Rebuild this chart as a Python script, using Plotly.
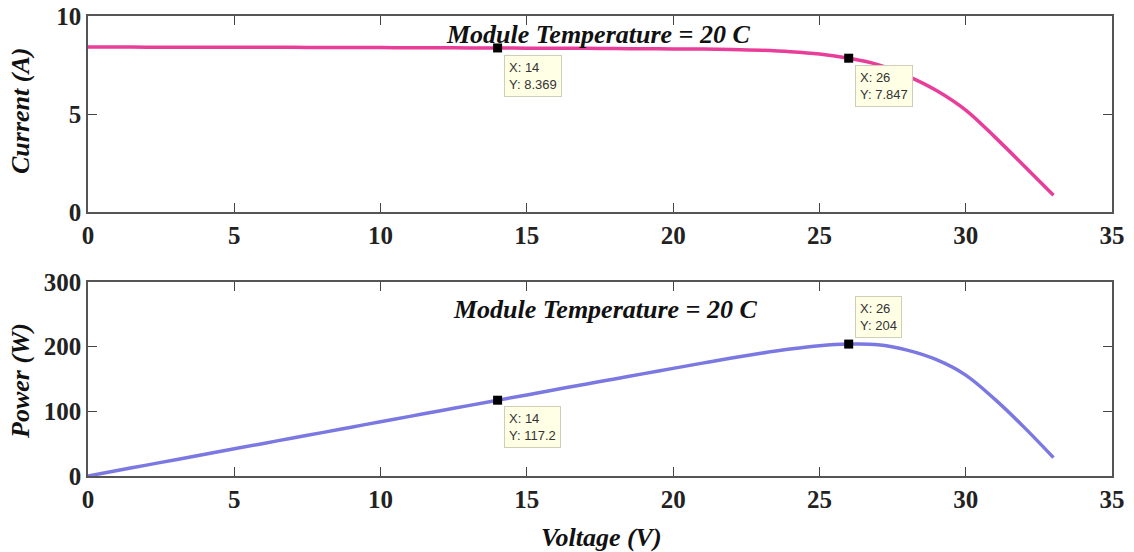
import plotly.graph_objects as go

voltage = list(range(0, 34))
current = [8.42, 8.42, 8.41, 8.41, 8.41, 8.40, 8.40, 8.40, 8.39, 8.39, 8.39,
           8.38, 8.38, 8.37, 8.369, 8.36, 8.36, 8.35, 8.34, 8.33, 8.32, 8.31,
           8.29, 8.25, 8.18, 8.06, 7.847, 7.52, 6.95, 6.20, 5.20, 3.82, 2.35, 0.86]
power = [0, 8.42, 16.82, 25.23, 33.64, 42.0, 50.4, 58.8, 67.12, 75.51, 83.9,
         92.18, 100.56, 108.81, 117.2, 125.4, 133.76, 141.95, 150.12, 158.27, 166.4,
         174.51, 182.38, 189.75, 196.32, 201.5, 204.0, 203.04, 194.6, 179.8, 156.0,
         118.42, 75.2, 28.38]
tip_x = [14, 26]
tip_i = [8.369, 7.847]
tip_p = [117.2, 204]
tip_i_txt = ["8.369", "7.847"]
tip_p_txt = ["117.2", "204"]

title_text = "Module Temperature = 20 C"
x_ticks = [0, 5, 10, 15, 20, 25, 30, 35]
i_ticks = [0, 5, 10]
p_ticks = [0, 100, 200, 300]

W, H = 1134, 552
def py(px):
    return 1 - px / H
def pxx(px):
    return px / W

fig = go.Figure()
fig.add_trace(go.Scatter(x=voltage, y=current, mode="lines", line=dict(color="#E83E9A", width=3.5, shape="spline"),
                         xaxis="x", yaxis="y", showlegend=False, hoverinfo="skip"))
fig.add_trace(go.Scatter(x=voltage, y=power, mode="lines", line=dict(color="#7B78E2", width=3.5, shape="spline"),
                         xaxis="x2", yaxis="y2", showlegend=False, hoverinfo="skip"))
fig.add_trace(go.Scatter(x=tip_x, y=tip_i, mode="markers", marker=dict(symbol="square", size=9, color="black"),
                         xaxis="x", yaxis="y", showlegend=False, hoverinfo="skip"))
fig.add_trace(go.Scatter(x=tip_x, y=tip_p, mode="markers", marker=dict(symbol="square", size=9, color="black"),
                         xaxis="x2", yaxis="y2", showlegend=False, hoverinfo="skip"))

tickfont = dict(family="Liberation Serif", size=25, weight="bold", color="#222")
ax_common = dict(showline=True, linecolor="#555", linewidth=1.5, mirror="ticks", ticks="inside",
                 ticklen=9, tickcolor="#444", tickwidth=1.2, showgrid=False, zeroline=False,
                 tickfont=tickfont, automargin=False)

xdom = [pxx(88), pxx(1112)]
fig.update_layout(
    width=W, height=H, margin=dict(l=0, r=0, t=0, b=0, autoexpand=False),
    paper_bgcolor="white", plot_bgcolor="white",
    xaxis=dict(domain=xdom, range=[0, 35], tickvals=x_ticks, anchor="y", **ax_common),
    yaxis=dict(domain=[py(212), py(16)], range=[0, 10], tickvals=i_ticks, anchor="x", **ax_common),
    xaxis2=dict(domain=xdom, range=[0, 35], tickvals=x_ticks, anchor="y2", **ax_common),
    yaxis2=dict(domain=[py(476), py(282)], range=[0, 300], tickvals=p_ticks, anchor="x2", **ax_common),
)

titlefont = dict(family="Liberation Serif", size=26, weight="bold", style="italic", color="#111")
lab = dict(xref="paper", yref="paper", showarrow=False, font=titlefont, xanchor="center", yanchor="middle")
anns = []
anns.append(dict(x=pxx(598), y=py(34), text=title_text, **lab))
anns.append(dict(x=pxx(605), y=py(309), text=title_text, **lab))
anns.append(dict(x=pxx(20), y=py(111), text="Current (A)", textangle=-90, **lab))
anns.append(dict(x=pxx(20), y=py(381), text="Power (W)", textangle=-90, **lab))
anns.append(dict(x=pxx(601), y=py(537), text="Voltage (V)", **lab))

tipfont = dict(family="Liberation Sans", size=13, color="#333")
tipbox = dict(bgcolor="#FFFFE6", bordercolor="#CFCFB8", borderwidth=1, borderpad=4, align="left",
              showarrow=False, font=tipfont)
for k in range(2):
    anns.append(dict(x=tip_x[k], y=tip_i[k], xref="x", yref="y",
                     text=f"X: {tip_x[k]}<br>Y: {tip_i_txt[k]}",
                     xanchor="left", yanchor="top", xshift=6, yshift=-7, **tipbox))
anns.append(dict(x=tip_x[0], y=tip_p[0], xref="x2", yref="y2",
                 text=f"X: {tip_x[0]}<br>Y: {tip_p_txt[0]}",
                 xanchor="left", yanchor="top", xshift=6, yshift=-6, **tipbox))
anns.append(dict(x=tip_x[1], y=tip_p[1], xref="x2", yref="y2",
                 text=f"X: {tip_x[1]}<br>Y: {tip_p_txt[1]}",
                 xanchor="left", yanchor="bottom", xshift=6, yshift=6, **tipbox))
fig.update_layout(annotations=anns)

fig.write_html("out.html")
